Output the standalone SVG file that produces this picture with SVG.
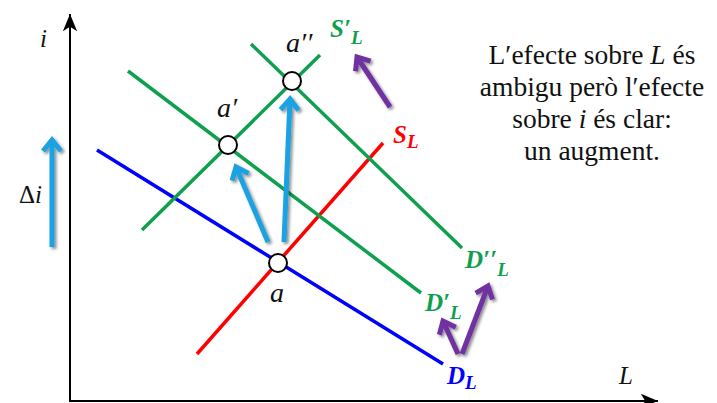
<svg xmlns="http://www.w3.org/2000/svg" width="717" height="403" viewBox="0 0 717 403">
<style>
.ln{fill:none;stroke-width:3.5;stroke-linecap:butt}
.g{stroke:#0FA04F}
.lbl{font-family:"Liberation Serif","DejaVu Serif",serif;font-style:italic;font-weight:bold;font-size:25px}
.pt{font-family:"Liberation Serif","DejaVu Serif",serif;font-style:italic;font-size:25px;fill:#111}
.ptb{font-size:28px}
.txt{font-family:"Liberation Serif","DejaVu Serif",serif;font-size:27.5px;fill:#111;text-anchor:middle}
.bar{fill:none;stroke-width:5}
.blue{stroke:#1BA1E2}
.purp{stroke:#7030A0}
.eq{fill:#fff;stroke:#000;stroke-width:2}
</style>
<defs>
<filter id="sh" x="-50%" y="-50%" width="200%" height="200%">
<feDropShadow dx="2" dy="2" stdDeviation="1.5" flood-color="#000" flood-opacity="0.45"/>
</filter>
<marker id="hb" markerUnits="userSpaceOnUse" markerWidth="30" markerHeight="30" refX="0" refY="0" viewBox="-15 -15 30 30" orient="auto" overflow="visible">
<path d="M-11,-9 L0,0 L-11,9" fill="none" stroke="#1BA1E2" stroke-width="5"/>
</marker>
<marker id="hp" markerUnits="userSpaceOnUse" markerWidth="30" markerHeight="30" refX="0" refY="0" viewBox="-15 -15 30 30" orient="auto" overflow="visible">
<path d="M-11,-9 L0,0 L-11,9" fill="none" stroke="#7030A0" stroke-width="5"/>
</marker>
<marker id="ax" markerUnits="userSpaceOnUse" markerWidth="20" markerHeight="20" refX="0" refY="0" viewBox="-12 -6 14 12" orient="auto" overflow="visible">
<path d="M-12,-5 L0,0 L-12,5 L-9,0 Z" fill="#000"/>
</marker>
</defs>

<g id="axes">
<line x1="70" y1="401" x2="70" y2="14" stroke="#000" stroke-width="2" marker-end="url(#ax)"/>
<line x1="69" y1="401" x2="658" y2="401" stroke="#000" stroke-width="2" marker-end="url(#ax)"/>
<text class="pt" x="40" y="47">i</text>
<text class="pt" x="619" y="384">L</text>
</g>

<g id="curves">
<line id="DL" class="ln" stroke="#0000FF" x1="97" y1="150" x2="443" y2="364"/>
<line id="SL" class="ln" stroke="#FF0000" x1="197" y1="354" x2="383" y2="143"/>
<line id="S2L" class="ln g" x1="142" y1="230" x2="320" y2="55"/>
<line id="D1L" class="ln g" x1="128" y1="71" x2="421" y2="293"/>
<line id="D2L" class="ln g" x1="251" y1="44" x2="462" y2="248"/>
</g>

<g id="shifts" filter="url(#sh)">
<line class="bar blue" x1="52" y1="247" x2="52" y2="140" marker-end="url(#hb)"/>
<line class="bar blue" x1="268" y1="242" x2="236" y2="167" marker-end="url(#hb)"/>
<line class="bar blue" x1="284" y1="242" x2="290" y2="99" marker-end="url(#hb)"/>
<line class="bar purp" x1="390" y1="107" x2="357" y2="57" marker-end="url(#hp)"/>
<line class="bar purp" x1="458" y1="354" x2="443" y2="321" marker-end="url(#hp)"/>
<line class="bar purp" x1="462" y1="354" x2="488" y2="286" marker-end="url(#hp)"/>
</g>

<g id="eq-a"><circle class="eq" cx="278" cy="263" r="9"/><text class="pt ptb" x="270" y="302">a</text></g>
<g id="eq-a1"><circle class="eq" cx="228" cy="145" r="9"/><text class="pt ptb" x="217" y="117">a′</text></g>
<g id="eq-a2"><circle class="eq" cx="292" cy="81" r="9"/><text class="pt ptb" x="286" y="52">a′′</text></g>

<g id="labels">
<text class="lbl" fill="#0FA04F" x="330" y="37">S′<tspan font-size="19" dy="7">L</tspan></text>
<text class="lbl" fill="#FF0000" x="393" y="143">S<tspan font-size="19" dy="5">L</tspan></text>
<text class="lbl" fill="#0FA04F" x="465" y="268">D′′<tspan font-size="19" dy="8">L</tspan></text>
<text class="lbl" fill="#0FA04F" x="425" y="311">D′<tspan font-size="19" dy="8">L</tspan></text>
<text class="lbl" fill="#0000FF" x="447" y="384">D<tspan font-size="19" dy="5">L</tspan></text>
<text class="pt" x="19" y="203"><tspan font-style="normal">Δ</tspan>i</text>
</g>

<g id="note">
<text class="txt" x="592" y="64">L′efecte sobre <tspan font-style="italic">L</tspan> és</text>
<text class="txt" x="592" y="96">ambigu però l′efecte</text>
<text class="txt" x="592" y="128">sobre <tspan font-style="italic">i</tspan> és clar:</text>
<text class="txt" x="592" y="160">un augment.</text>
</g>
</svg>
